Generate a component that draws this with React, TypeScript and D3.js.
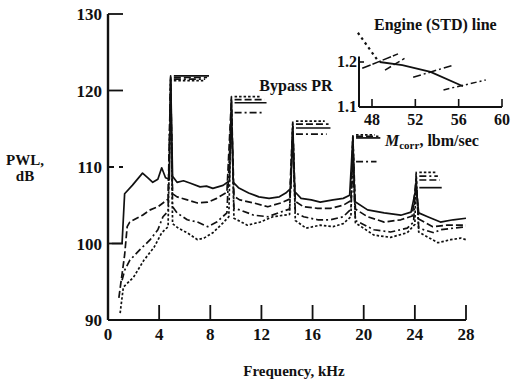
import React from "react";
import * as d3 from "d3";

// main plot: sound power level spectra, 4 bypass pressure ratios
const xTicks = [0, 4, 8, 12, 16, 20, 24, 28];
const yTicks = [90, 100, 110, 120, 130];

const solidCurve: [number, number][] = [
  [0.3, 100], [1.1, 100], [1.3, 106.5], [1.9, 107.6], [2.7, 109.2], [3.1, 108.6], [3.5, 108.0],
  [3.9, 108.4], [4.2, 109.9], [4.5, 108.6], [4.8, 108.4], [4.9, 121.9], [5.05, 108.8], [5.4, 108.0],
  [5.9, 108.2], [6.4, 107.9], [7.2, 107.4], [7.7, 107.5], [8.2, 107.2], [9.0, 107.6], [9.5, 108.2],
  [9.65, 118.4], [9.8, 108.0], [10.2, 107.3], [11.0, 106.6], [11.8, 106.1], [12.6, 105.9], [13.4, 106.1],
  [13.9, 106.6], [14.3, 107.2], [14.45, 115.1], [14.6, 106.8], [15.1, 105.9], [15.9, 105.7], [16.6, 105.4],
  [17.6, 105.7], [18.4, 105.9], [18.9, 106.3], [19.15, 113.8], [19.3, 105.5], [20.3, 104.4], [21.6, 104.0],
  [22.9, 103.7], [23.7, 104.1], [24.1, 107.3], [24.3, 104.0], [25.0, 103.5], [26.0, 102.8], [27.0, 103.1],
  [28.0, 103.3],
];

const dashedCurve: [number, number][] = [
  [0.85, 92.9], [1.3, 98.5], [1.5, 102.2], [1.7, 102.8], [2.7, 103.7], [3.3, 104.4], [3.9, 104.8],
  [4.3, 105.3], [4.7, 105.8], [4.9, 121.7], [5.05, 106.5], [5.4, 106.1], [6.2, 105.7], [7.0, 105.3],
  [7.8, 105.4], [8.5, 105.9], [9.3, 106.7], [9.65, 118.8], [9.85, 106.2], [10.3, 105.7], [11.4, 105.3],
  [12.5, 104.8], [13.5, 105.3], [14.2, 105.8], [14.45, 115.6], [14.65, 105.5], [15.3, 104.8], [16.4, 104.6],
  [17.4, 104.6], [18.4, 105.0], [19.0, 105.6], [19.15, 114.0], [19.35, 104.5], [20.3, 103.5], [21.6, 102.8],
  [22.9, 103.1], [23.8, 103.6], [24.1, 108.3], [24.3, 103.2], [25.4, 102.2], [26.5, 102.4], [28.0, 102.4],
];

const dashDotCurve: [number, number][] = [
  [1.1, 95.2], [1.3, 96.5], [1.7, 97.8], [2.5, 99.2], [3.3, 100.5], [3.9, 101.8], [4.3, 103.5],
  [4.7, 104.2], [4.9, 121.5], [5.05, 104.8], [5.4, 104.0], [6.2, 103.1], [7.0, 102.8], [7.8, 102.2],
  [8.5, 102.8], [9.3, 104.0], [9.65, 117.1], [9.85, 104.6], [10.3, 104.4], [11.4, 103.7], [12.5, 103.5],
  [13.5, 104.1], [14.2, 104.5], [14.45, 114.3], [14.65, 104.0], [15.3, 103.5], [16.4, 103.1], [17.4, 103.1],
  [18.4, 103.5], [19.0, 104.5], [19.15, 110.7], [19.35, 103.0], [20.8, 101.8], [22.1, 101.5], [23.4, 102.0],
  [23.9, 102.8], [24.1, 108.8], [24.3, 102.0], [25.5, 101.4], [26.0, 101.8], [27.0, 102.0], [28.0, 102.2],
];

const dottedCurve: [number, number][] = [
  [0.95, 90.9], [1.2, 94.3], [2.0, 95.6], [2.8, 97.8], [3.6, 99.5], [4.2, 101.4], [4.7, 102.2],
  [4.9, 121.3], [5.05, 102.6], [5.5, 102.0], [6.2, 101.4], [7.0, 100.5], [7.5, 100.7], [8.2, 101.4],
  [9.0, 102.7], [9.45, 103.5], [9.65, 119.2], [9.85, 103.3], [10.9, 102.4], [11.9, 102.8], [12.9, 103.5],
  [14.2, 103.8], [14.45, 116.0], [14.65, 103.0], [15.5, 102.0], [16.6, 102.4], [17.6, 102.2], [18.4, 102.6],
  [19.0, 103.5], [19.15, 114.2], [19.35, 102.7], [20.8, 101.1], [22.1, 100.8], [23.4, 101.4], [24.0, 102.5],
  [24.1, 109.3], [24.3, 101.5], [25.8, 100.1], [26.8, 100.5], [27.6, 100.7], [28.0, 100.5],
];

// blade passing harmonics and the peak-level marks beside them
const peakFreqs = [4.9, 9.65, 14.45, 19.15, 24.1];
const markerEnds = [7.9, 12.4, 17.4, 21.3, 26.1];
const solidPeaks = [121.9, 118.4, 115.1, 113.8, 107.3];
const dashedPeaks = [121.7, 118.8, 115.6, 114.0, 108.3];
const dashDotPeaks = [121.5, 117.1, 114.3, 110.7, 108.8];
const dottedPeaks = [121.3, 119.2, 116.0, 114.2, 109.3];

// inset: bypass PR vs corrected flow
const insetXTicks = [48, 52, 56, 60];
const insetYTicks = [1.1, 1.2];
const engineLine: [number, number][] = [[48.7, 1.2], [50.8, 1.193], [53.4, 1.178], [56.4, 1.146]];
const leaderLine: [number, number][] = [[46.7, 1.265], [48.6, 1.201]];
const speedLines: [number, number][][] = [
  [[47.1, 1.186], [50.4, 1.218]],
  [[49.2, 1.182], [51.0, 1.208]],
  [[51.8, 1.166], [55.5, 1.193]],
  [[54.6, 1.138], [58.5, 1.16]],
];

const series = [
  { data: solidCurve, peaks: solidPeaks, dash: "none" },
  { data: dashedCurve, peaks: dashedPeaks, dash: "7,3" },
  { data: dashDotCurve, peaks: dashDotPeaks, dash: "7,3,2,3" },
  { data: dottedCurve, peaks: dottedPeaks, dash: "2.5,2" },
];
const speedDash = ["9,2", "7,3", "8,3,2,3", "6,3,2,3"];

const textStyle: React.CSSProperties = {
  fontFamily: "'Liberation Serif', 'DejaVu Serif', serif",
  fontWeight: 700,
};

export default function App() {
  const x = d3.scaleLinear().domain([0, 28]).range([108, 466]);
  const y = d3.scaleLinear().domain([90, 130]).range([320, 14]);
  const line = d3.line<[number, number]>().x((d) => x(d[0])).y((d) => y(d[1]));

  const ix = d3.scaleLinear().domain([48, 60]).range([372, 502]);
  const iy = d3.scaleLinear().domain([1.1, 1.2]).range([107, 62]);
  const iline = d3.line<[number, number]>().x((d) => ix(d[0])).y((d) => iy(d[1]));
  const insetLeft = ix(46.8);

  return (
    <svg
      width={513}
      height={379}
      style={{ position: "absolute", left: 0, top: 0, background: "#fff", ...textStyle }}
    >
      {/* main axes */}
      <line x1={x(0)} x2={x(0)} y1={y(130)} y2={y(90)} stroke="#111" strokeWidth={2.4} />
      <line x1={x(0)} x2={x(28)} y1={y(90)} y2={y(90)} stroke="#111" strokeWidth={2.2} />
      {yTicks.filter((t) => t > 90).map((t) => (
        <line key={t} x1={x(0)} x2={x(0) + 15} y1={y(t)} y2={y(t)} stroke="#111" strokeWidth={1.8}
          strokeDasharray={t === 110 ? "6,5" : "none"} />
      ))}
      {xTicks.filter((t) => t > 0).map((t) => (
        <line key={t} x1={x(t)} x2={x(t)} y1={y(90)} y2={y(90) - 15} stroke="#111" strokeWidth={1.8} />
      ))}
      {yTicks.map((t) => (
        <text key={t} x={x(0) - 6} y={y(t) + 6} textAnchor="end" fontSize={17} fill="#111">{t}</text>
      ))}
      {xTicks.map((t) => (
        <text key={t} x={x(t)} y={y(90) + 20} textAnchor="middle" fontSize={17} fill="#111">{t}</text>
      ))}
      <text x={25} y={165} textAnchor="middle" fontSize={15} fill="#111">PWL,</text>
      <text x={25} y={181} textAnchor="middle" fontSize={15} fill="#111">dB</text>
      <text x={294} y={376} textAnchor="middle" fontSize={15} fill="#111">Frequency, kHz</text>
      <text x={296} y={91} textAnchor="middle" fontSize={16} fill="#111">Bypass PR</text>

      {/* spectra */}
      {series.map((s, i) => (
        <g key={i}>
          <path d={line(s.data) ?? ""} fill="none" stroke="#111" strokeWidth={1.7}
            strokeDasharray={s.dash} strokeLinejoin="round" />
          {s.peaks.map((p, k) => (
            <line key={k} x1={x(peakFreqs[k] + 0.25)} x2={x(markerEnds[k] - i * 0.15)}
              y1={y(p)} y2={y(p)} stroke="#111" strokeWidth={1.7} strokeDasharray={s.dash} />
          ))}
        </g>
      ))}

      {/* inset */}
      <line x1={insetLeft} x2={insetLeft} y1={iy(1.1)} y2={iy(1.212)} stroke="#111" strokeWidth={2} />
      <line x1={insetLeft} x2={ix(60)} y1={iy(1.1)} y2={iy(1.1)} stroke="#111" strokeWidth={2} />
      <line x1={insetLeft} x2={insetLeft + 5} y1={iy(1.2)} y2={iy(1.2)} stroke="#111" strokeWidth={1.6} />
      {insetXTicks.map((t) => (
        <line key={t} x1={ix(t)} x2={ix(t)} y1={iy(1.1)} y2={iy(1.1) - 8} stroke="#111" strokeWidth={1.6} />
      ))}
      {insetXTicks.map((t) => (
        <text key={t} x={ix(t)} y={iy(1.1) + 18} textAnchor="middle" fontSize={16} fill="#111">{t}</text>
      ))}
      {insetYTicks.map((t) => (
        <text key={t} x={insetLeft - 2} y={iy(t) + 5} textAnchor="end" fontSize={16} fill="#111">{t.toFixed(1)}</text>
      ))}
      <path d={iline(engineLine) ?? ""} fill="none" stroke="#111" strokeWidth={1.8} />
      <path d={iline(leaderLine) ?? ""} fill="none" stroke="#111" strokeWidth={2.2} strokeDasharray="2.5,3.5" />
      {speedLines.map((l, i) => (
        <path key={i} d={iline(l) ?? ""} fill="none" stroke="#111" strokeWidth={1.5} strokeDasharray={speedDash[i]} />
      ))}
      <text x={374} y={30} fontSize={16} fill="#111">Engine (STD) line</text>
      <text x={385} y={146} fontSize={16} fill="#111">
        <tspan fontStyle="italic">M</tspan>
        <tspan fontSize={11} dy={3}>corr</tspan>
        <tspan dy={-3}>, lbm/sec</tspan>
      </text>
    </svg>
  );
}
